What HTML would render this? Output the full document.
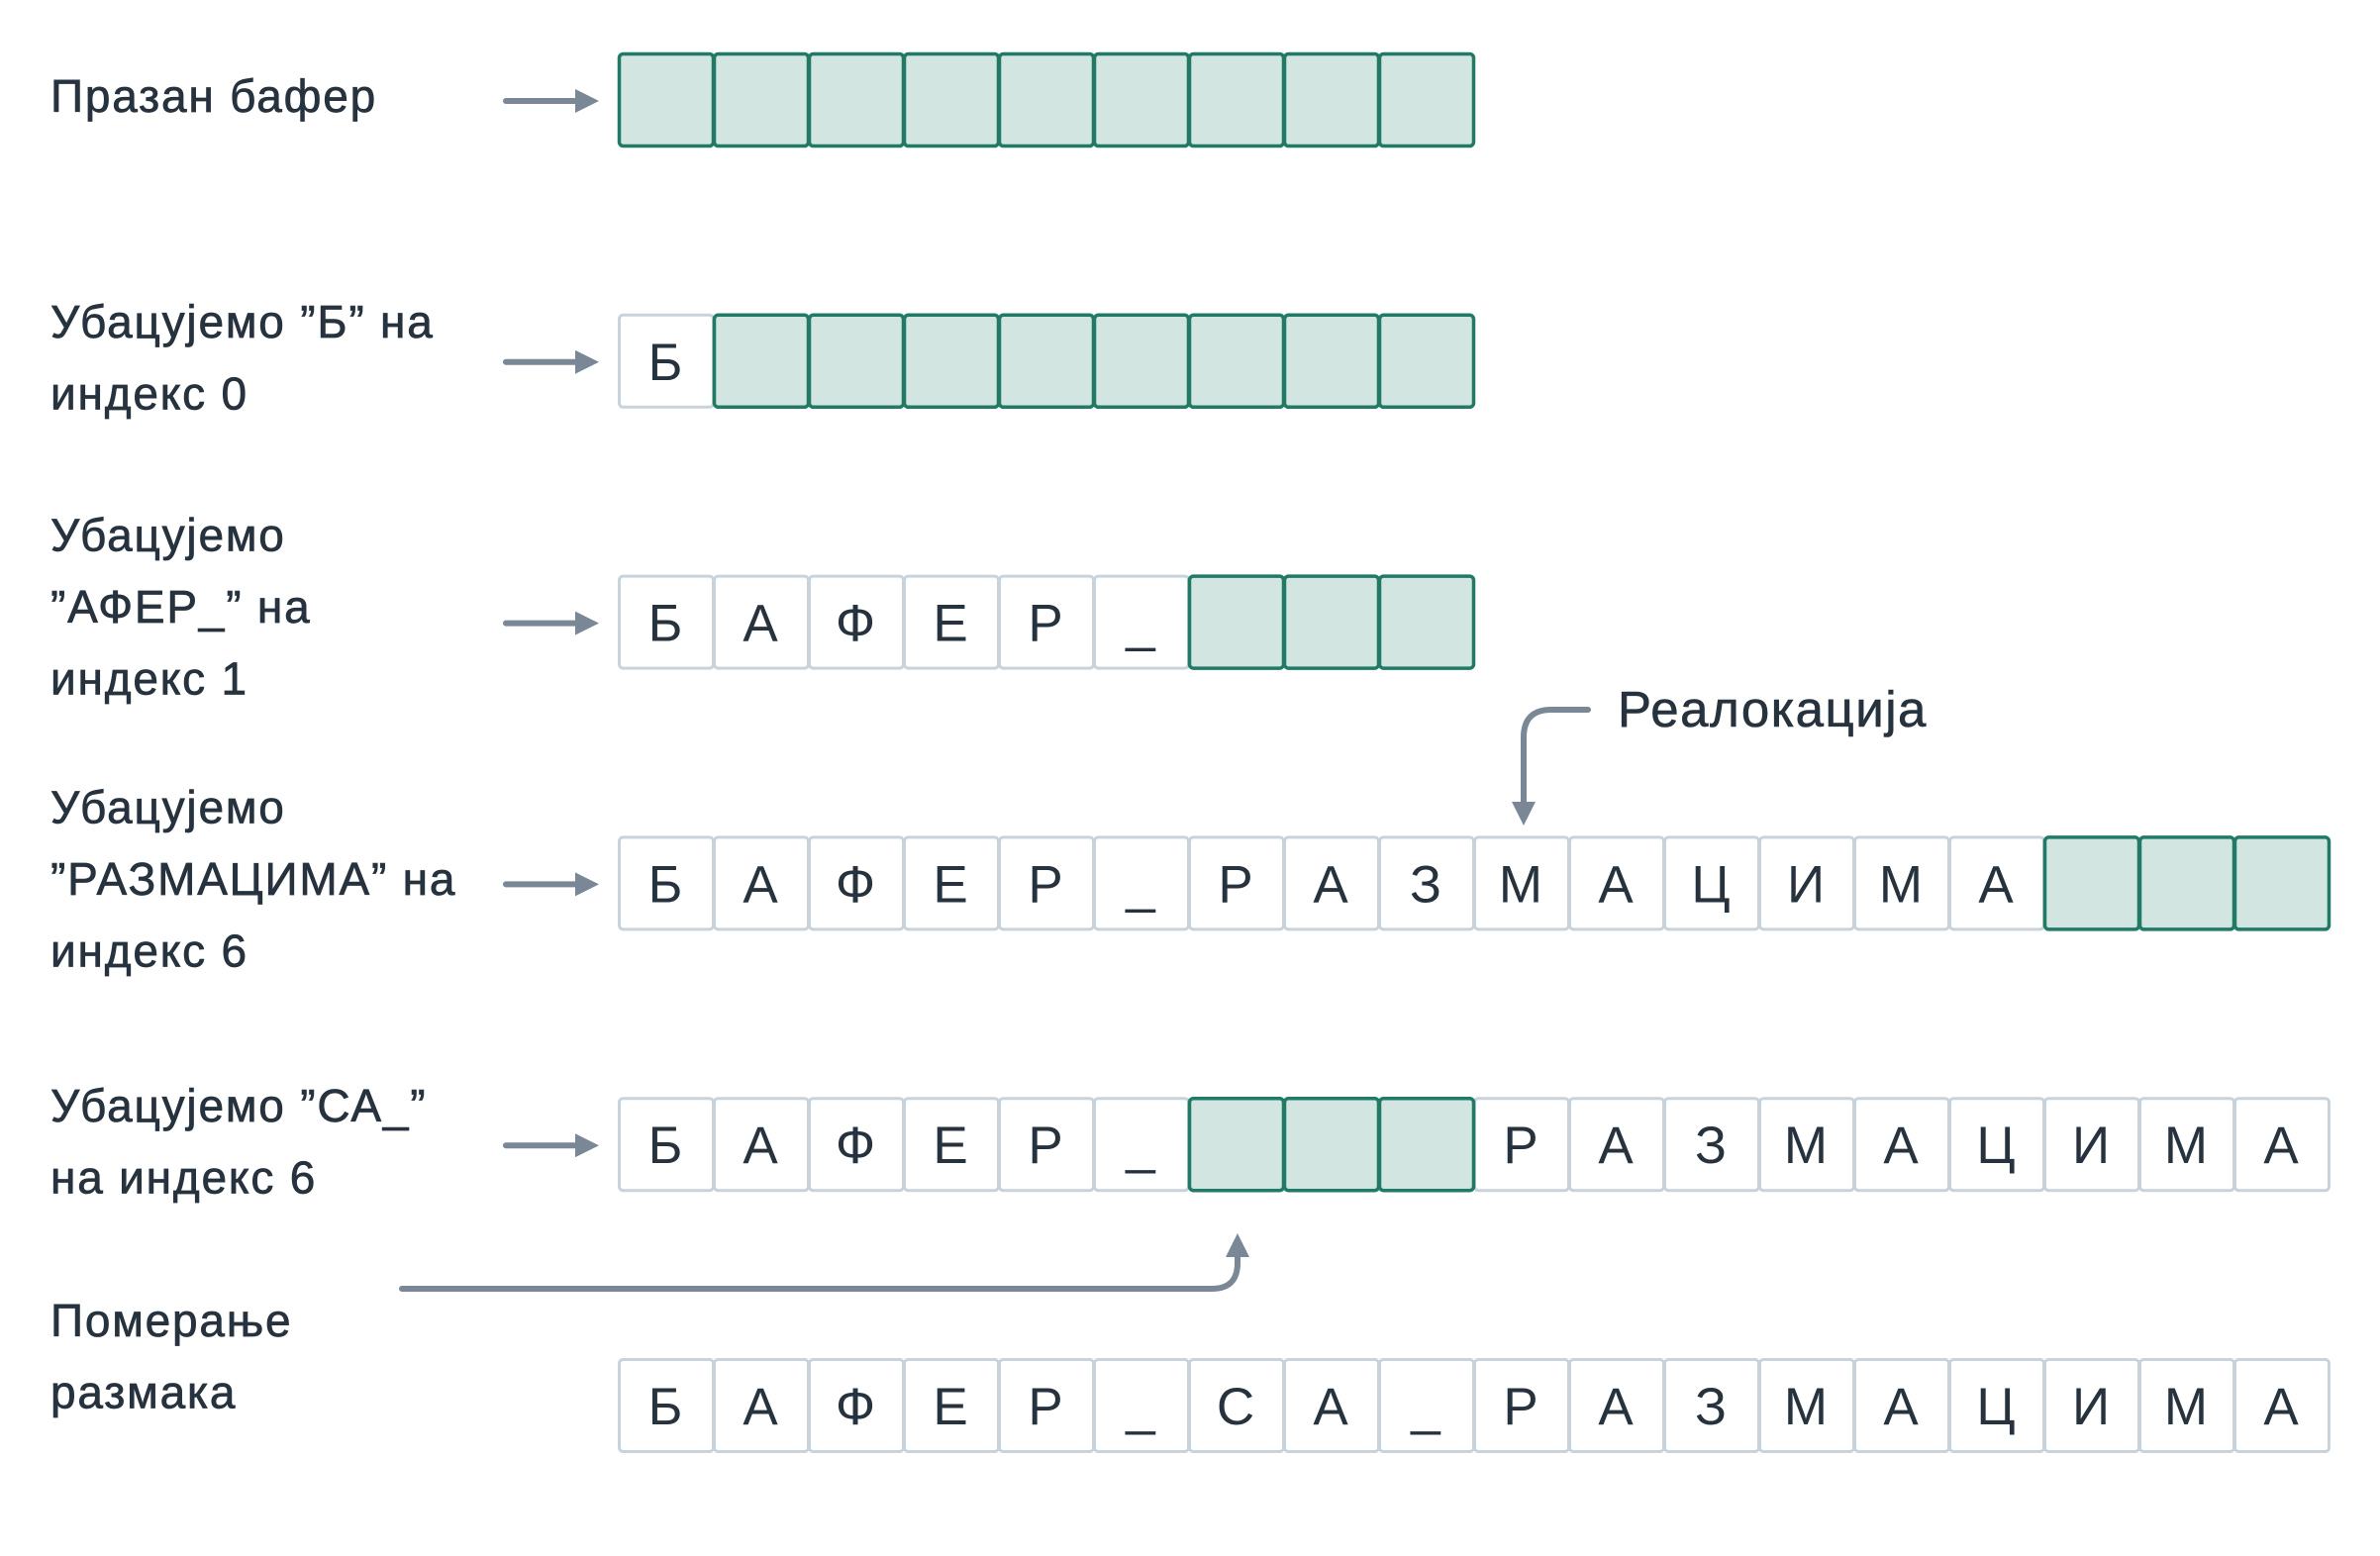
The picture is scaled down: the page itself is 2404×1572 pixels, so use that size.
<!DOCTYPE html>
<html><head><meta charset="utf-8">
<style>
html,body{margin:0;padding:0;background:#fff;}
svg{display:block;}
text{font-family:"Liberation Sans","DejaVu Sans",sans-serif;fill:#27323f;}
</style></head>
<body>
<svg id="chart" width="2404" height="1572" viewBox="0 0 2404 1572" xmlns="http://www.w3.org/2000/svg">
<defs>
<marker id="ah" markerWidth="4" markerHeight="4" refX="2" refY="2" orient="auto" markerUnits="strokeWidth">
<path d="M0,0 L4,2 L0,4 z" fill="#7a8796"/>
</marker>
</defs>
<g id="rows"></g>
<g id="labels"></g>
<path d="M1604,717 L1567,717 Q1539,717 1539,745 L1539,822" stroke="#7a8796" stroke-width="6" fill="none" stroke-linecap="round" marker-end="url(#ah)"/>
<text x="1634" y="734" font-size="51" letter-spacing="1.5" stroke="#27323f" stroke-width="0.6">Реалокација</text>
<path d="M406,1302 L1224,1302 Q1250,1302 1250,1276 L1250,1258" stroke="#7a8796" stroke-width="6" fill="none" stroke-linecap="round" marker-end="url(#ah)"/>
</svg>
<script>
const rowChars = [
  ["","","","","","","","",""],
  ["Б","","","","","","","",""],
  ["Б","А","Ф","Е","Р","_","","",""],
  ["Б","А","Ф","Е","Р","_","Р","А","З","М","А","Ц","И","М","А","","",""],
  ["Б","А","Ф","Е","Р","_","","","","Р","А","З","М","А","Ц","И","М","А"],
  ["Б","А","Ф","Е","Р","_","С","А","_","Р","А","З","М","А","Ц","И","М","А"]
];
const rowEmpty = [
  [1,1,1,1,1,1,1,1,1],
  [0,1,1,1,1,1,1,1,1],
  [0,0,0,0,0,0,1,1,1],
  [0,0,0,0,0,0,0,0,0,0,0,0,0,0,0,1,1,1],
  [0,0,0,0,0,0,1,1,1,0,0,0,0,0,0,0,0,0],
  [0,0,0,0,0,0,0,0,0,0,0,0,0,0,0,0,0,0]
];
const rowLabels = [
  ["Празан бафер"],
  ["Убацујемо ”Б” на","индекс 0"],
  ["Убацујемо","”АФЕР_” на","индекс 1"],
  ["Убацујемо","”РАЗМАЦИМА” на","индекс 6"],
  ["Убацујемо ”СА_”","на индекс 6"],
  ["Померање","размака"]
];
const rowHasArrow = [1,1,1,1,1,0];

const NS="http://www.w3.org/2000/svg";
const x0=624, cellW=96.0, cellH=96, rowTop0=53, rowGap=263.8;
const labelX=51, lineH=72.5;
const xCell=i=>x0+i*cellW;
const yRow=r=>rowTop0+r*rowGap;
const rowsG=document.getElementById('rows');
const labG=document.getElementById('labels');

rowChars.forEach((chars,r)=>{
  const g=document.createElementNS(NS,'g');
  
  
  rowsG.appendChild(g);
  const order=[...chars.keys()].sort((a,b)=>rowEmpty[r][a]-rowEmpty[r][b]);
  order.forEach(i=>{
    const empty=rowEmpty[r][i];
    const rect=document.createElementNS(NS,'rect');
    rect.setAttribute('x',xCell(i)+1.5);
    rect.setAttribute('y',yRow(r)+1.5);
    rect.setAttribute('width',cellW-1);
    rect.setAttribute('height',cellH-3);
    rect.setAttribute('rx',4);
    rect.setAttribute('fill',empty?'#d2e5e1':'#ffffff');
    rect.setAttribute('stroke',empty?'#217a66':'#c8d3dc');
    rect.setAttribute('stroke-width',empty?3.5:3);
    
    
    g.appendChild(rect);
    if(chars[i]){
      const t=document.createElementNS(NS,'text');
      t.setAttribute('x',xCell(i)+cellW/2);
      t.setAttribute('y',yRow(r)+cellH/2+19);
      t.setAttribute('text-anchor','middle');
      t.setAttribute('font-size','53');
      t.textContent=chars[i];
      
      
      g.appendChild(t);
    }
  });
  if(rowHasArrow[r]){
    const p=document.createElementNS(NS,'path');
    const yc=yRow(r)+cellH/2+1;
    p.setAttribute('d','M511,'+yc+' L593,'+yc);
    p.setAttribute('stroke','#7a8796');
    p.setAttribute('stroke-width','6');
    p.setAttribute('stroke-linecap','round');
    p.setAttribute('marker-end','url(#ah)');
    
    
    rowsG.appendChild(p);
  }
});

const labelCenters=[97,361,613,888,1153,1370];
rowLabels.forEach((lines,r)=>{
  const n=lines.length;
  lines.forEach((ln,k)=>{
    const t=document.createElementNS(NS,'text');
    const yc=labelCenters[r]+(k-(n-1)/2)*lineH;
    t.setAttribute('x',labelX);
    t.setAttribute('y',yc+16);
    t.setAttribute('font-size','46');
    t.setAttribute('letter-spacing','1.8');
    t.setAttribute('stroke','#27323f');
    t.setAttribute('stroke-width','0.7');
    t.textContent=ln;
    
    
    labG.appendChild(t);
  });
});
</script>
</body></html>
